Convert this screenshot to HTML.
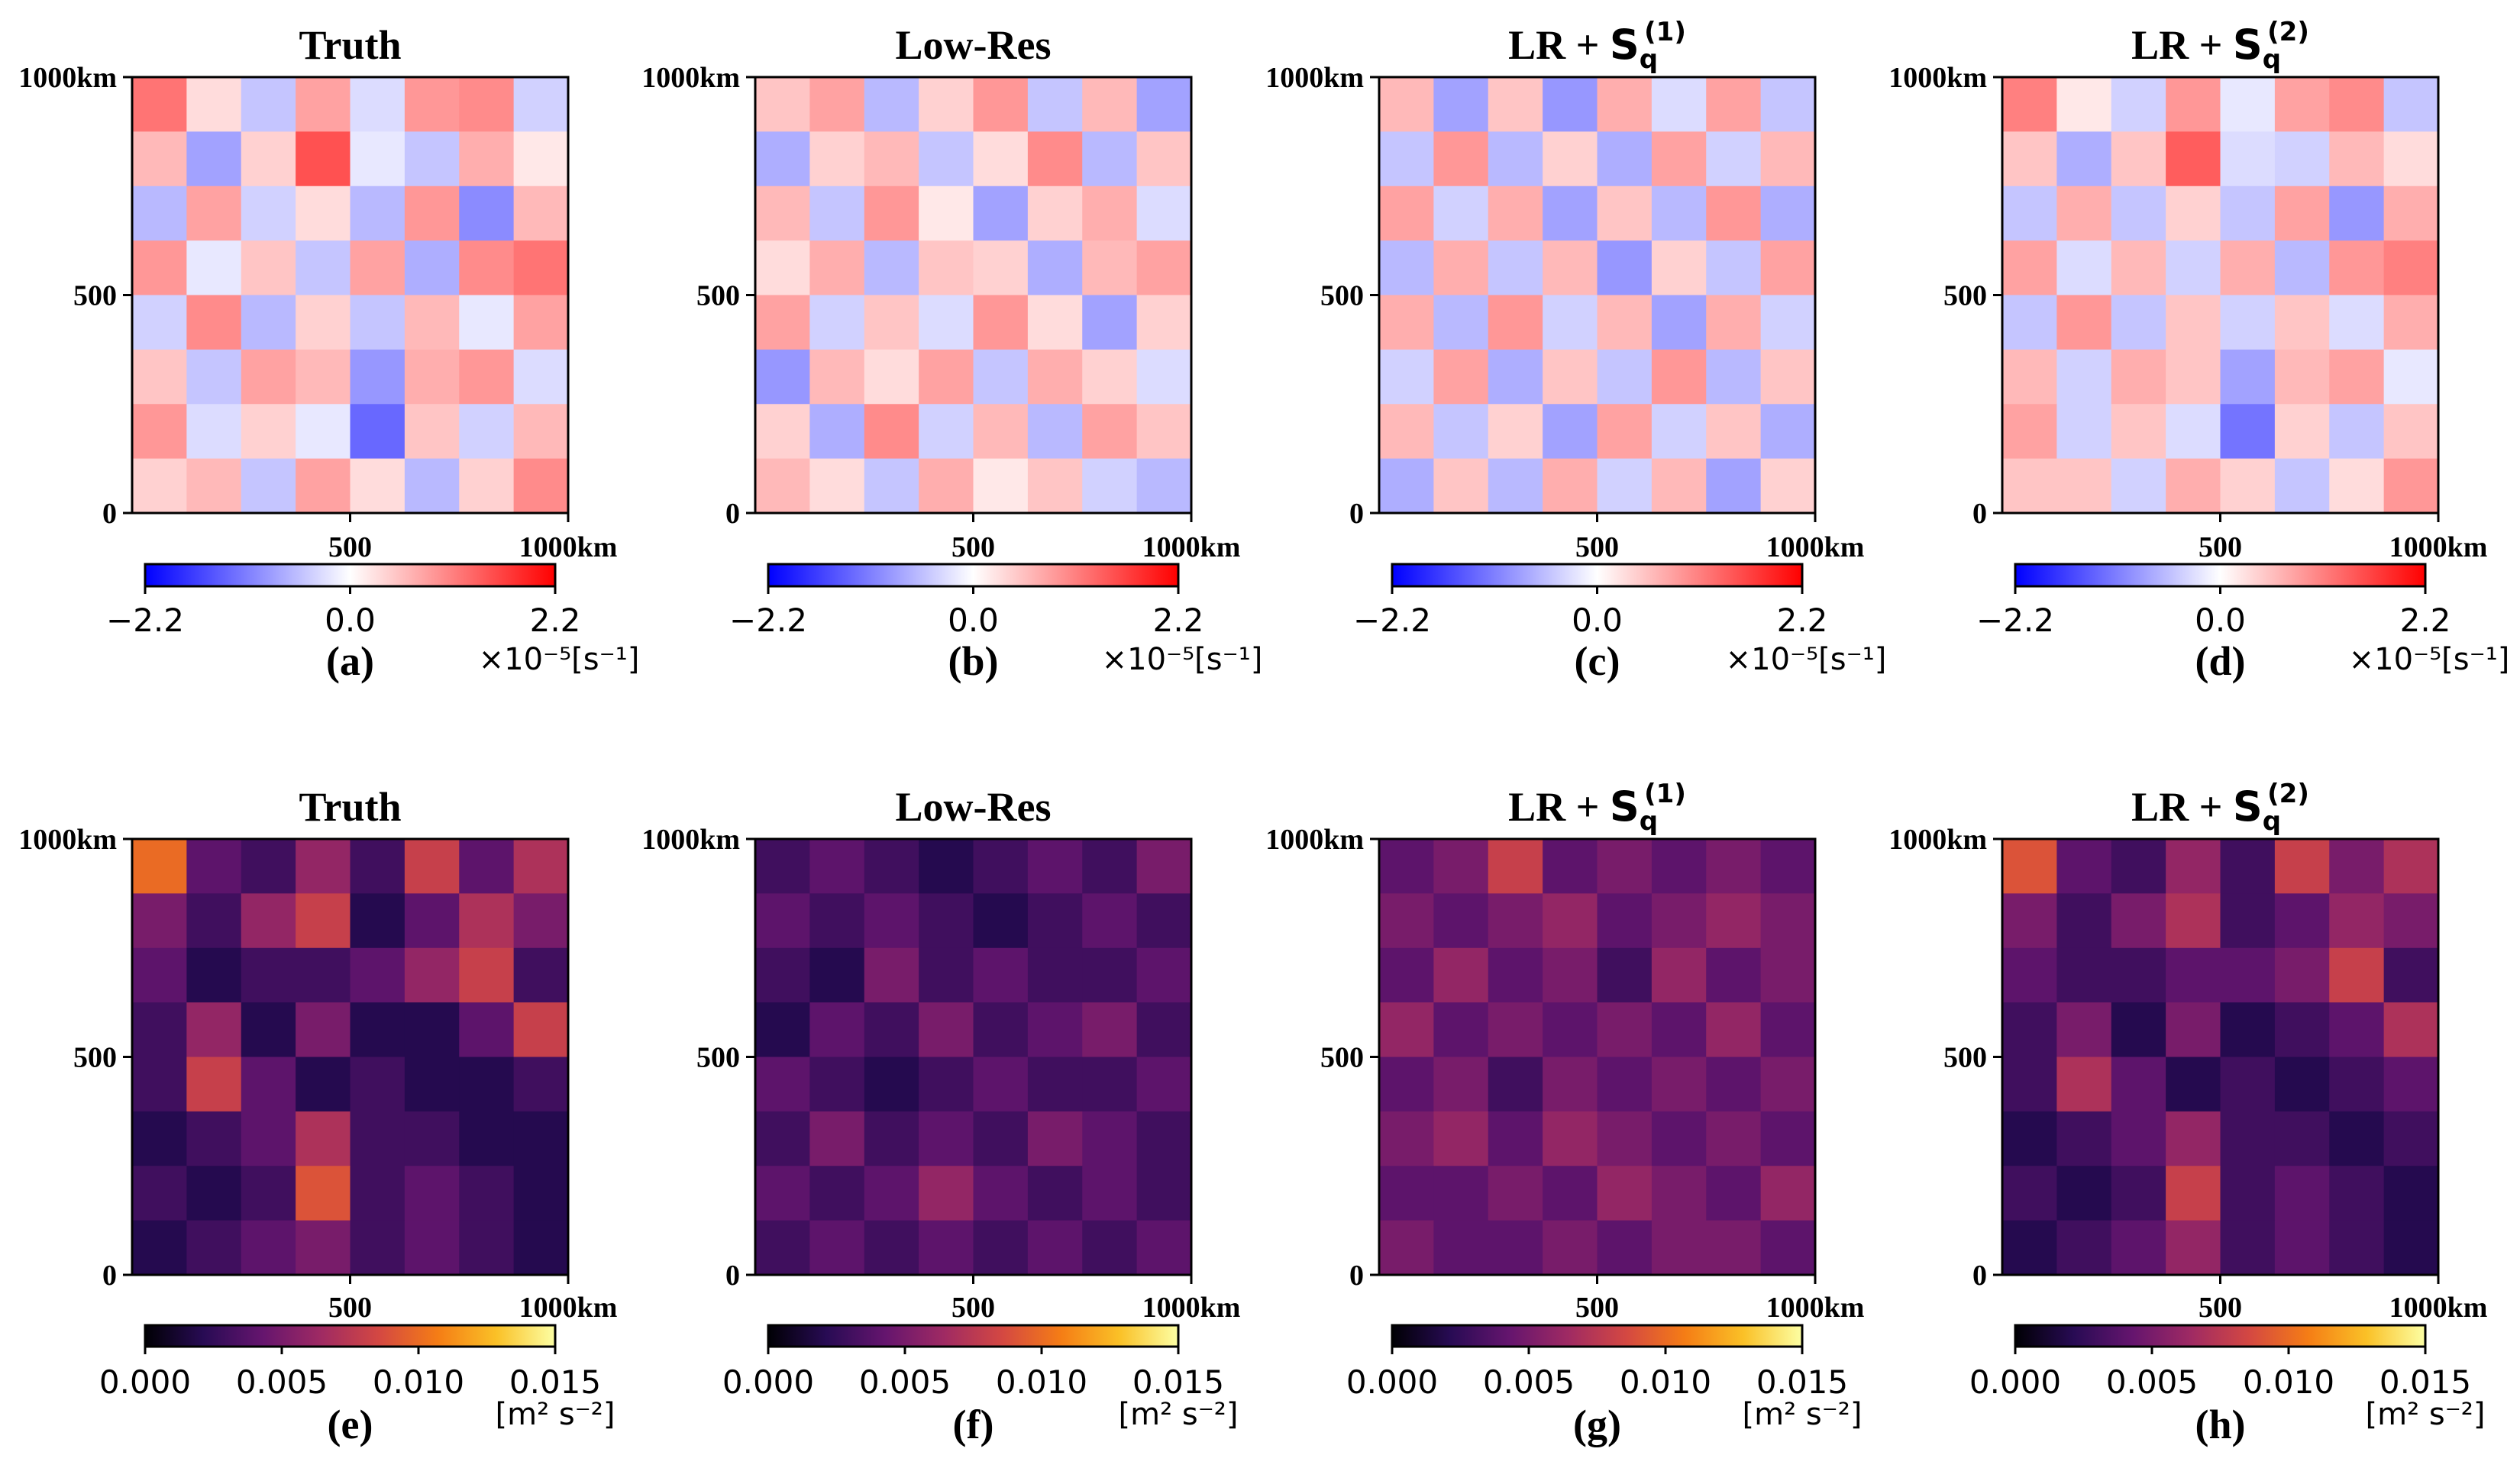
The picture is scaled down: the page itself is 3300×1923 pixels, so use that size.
<!DOCTYPE html>
<html><head><meta charset="utf-8"><style>
html,body{margin:0;padding:0;background:#fff;width:3300px;height:1923px;overflow:hidden}
svg{display:block}
</style></head><body>
<svg id="fig" width="3300" height="1923" viewBox="0 0 3300 1923" xmlns="http://www.w3.org/2000/svg"></svg>
<script>
// ---- data (coarse 8x8 estimates, top row first) ----
const vortTruth=[[1.2,0.3,-0.5,0.8,-0.3,0.9,1.0,-0.4],[0.6,-0.8,0.4,1.5,-0.2,-0.5,0.7,0.2],[-0.6,0.8,-0.4,0.3,-0.6,0.9,-1.0,0.6],[0.9,-0.2,0.5,-0.5,0.8,-0.7,1.0,1.2],[-0.4,1.0,-0.6,0.4,-0.5,0.6,-0.2,0.8],[0.5,-0.5,0.8,0.6,-0.9,0.7,0.9,-0.3],[0.9,-0.3,0.4,-0.2,-1.3,0.5,-0.4,0.6],[0.4,0.6,-0.5,0.8,0.3,-0.6,0.4,1.0]];
const vortLowRes=[[0.5,0.8,-0.6,0.4,0.9,-0.5,0.6,-0.8],[-0.7,0.4,0.6,-0.5,0.3,1.0,-0.6,0.5],[0.6,-0.5,0.9,0.2,-0.8,0.4,0.7,-0.3],[0.3,0.7,-0.6,0.5,0.4,-0.7,0.6,0.8],[0.8,-0.4,0.5,-0.3,0.9,0.3,-0.8,0.4],[-0.9,0.6,0.3,0.8,-0.5,0.7,0.4,-0.3],[0.4,-0.7,1.0,-0.4,0.6,-0.6,0.8,0.5],[0.6,0.3,-0.5,0.7,0.2,0.5,-0.4,-0.6]];
const vortS1=[[0.6,-0.8,0.5,-0.9,0.7,-0.3,0.8,-0.5],[-0.5,0.9,-0.6,0.4,-0.7,0.8,-0.4,0.6],[0.8,-0.4,0.7,-0.8,0.5,-0.6,0.9,-0.7],[-0.6,0.7,-0.5,0.6,-0.9,0.4,-0.5,0.8],[0.7,-0.6,0.9,-0.4,0.6,-0.8,0.7,-0.4],[-0.4,0.8,-0.7,0.5,-0.5,0.9,-0.6,0.5],[0.6,-0.5,0.4,-0.8,0.8,-0.4,0.5,-0.7],[-0.7,0.5,-0.6,0.7,-0.4,0.6,-0.8,0.4]];
const vortS2=[[1.1,0.2,-0.4,0.9,-0.2,0.8,1.0,-0.5],[0.5,-0.7,0.5,1.4,-0.3,-0.4,0.6,0.3],[-0.5,0.7,-0.5,0.4,-0.5,0.8,-0.9,0.7],[0.8,-0.3,0.6,-0.4,0.7,-0.6,0.9,1.1],[-0.5,0.9,-0.5,0.5,-0.4,0.5,-0.3,0.7],[0.6,-0.4,0.7,0.5,-0.8,0.6,0.8,-0.2],[0.8,-0.4,0.5,-0.3,-1.2,0.4,-0.5,0.5],[0.5,0.5,-0.4,0.7,0.4,-0.5,0.3,0.9]];
const keTruth=[[0.010,0.004,0.003,0.006,0.003,0.008,0.004,0.007],[0.005,0.003,0.006,0.008,0.002,0.004,0.007,0.005],[0.004,0.002,0.003,0.003,0.004,0.006,0.008,0.003],[0.003,0.006,0.002,0.005,0.002,0.002,0.004,0.008],[0.003,0.008,0.004,0.002,0.003,0.002,0.002,0.003],[0.002,0.003,0.004,0.007,0.003,0.003,0.002,0.002],[0.003,0.002,0.003,0.009,0.003,0.004,0.003,0.002],[0.002,0.003,0.004,0.005,0.003,0.004,0.003,0.002]];
const keLowRes=[[0.003,0.004,0.003,0.002,0.003,0.004,0.003,0.005],[0.004,0.003,0.004,0.003,0.002,0.003,0.004,0.003],[0.003,0.002,0.005,0.003,0.004,0.003,0.003,0.004],[0.002,0.004,0.003,0.005,0.003,0.004,0.005,0.003],[0.004,0.003,0.002,0.003,0.004,0.003,0.003,0.004],[0.003,0.005,0.003,0.004,0.003,0.005,0.004,0.003],[0.004,0.003,0.004,0.006,0.004,0.003,0.004,0.003],[0.003,0.004,0.003,0.004,0.003,0.004,0.003,0.004]];
const keS1=[[0.004,0.005,0.008,0.004,0.005,0.004,0.005,0.004],[0.005,0.004,0.005,0.006,0.004,0.005,0.006,0.005],[0.004,0.006,0.004,0.005,0.003,0.006,0.004,0.005],[0.006,0.004,0.005,0.004,0.005,0.004,0.006,0.004],[0.004,0.005,0.003,0.005,0.004,0.005,0.004,0.005],[0.005,0.006,0.004,0.006,0.005,0.004,0.005,0.004],[0.004,0.004,0.005,0.004,0.006,0.005,0.004,0.006],[0.005,0.004,0.004,0.005,0.004,0.005,0.005,0.004]];
const keS2=[[0.009,0.004,0.003,0.006,0.003,0.008,0.005,0.007],[0.005,0.003,0.005,0.007,0.003,0.004,0.006,0.005],[0.004,0.003,0.003,0.004,0.004,0.005,0.008,0.003],[0.003,0.005,0.002,0.005,0.002,0.003,0.004,0.007],[0.003,0.007,0.004,0.002,0.003,0.002,0.003,0.004],[0.002,0.003,0.004,0.006,0.003,0.003,0.002,0.003],[0.003,0.002,0.003,0.008,0.003,0.004,0.003,0.002],[0.002,0.003,0.004,0.006,0.003,0.004,0.003,0.002]];
const topTicks=["\u22122.2","0.0","2.2"];
const topTickVals=[-2.2,0,2.2];
const botTicks=["0.000","0.005","0.010","0.015"];
const botTickVals=[0,0.005,0.010,0.015];
const letters=["(a)","(b)","(c)","(d)","(e)","(f)","(g)","(h)"];

const NS="http://www.w3.org/2000/svg";
const svg=document.getElementById('fig');
function mk(tag,attrs,parent){const e=document.createElementNS(NS,tag);for(const k in attrs)e.setAttribute(k,attrs[k]);(parent||svg).appendChild(e);return e;}
function lerp(a,b,t){return a+(b-a)*t}
function bwr(v){let t=(v+2.2)/4.4;t=Math.max(0,Math.min(1,t));let r,g,b;if(t<0.5){const s=t/0.5;r=s;g=s;b=1;}else{const s=(t-0.5)/0.5;r=1;g=1-s;b=1-s;}return `rgb(${Math.round(r*255)},${Math.round(g*255)},${Math.round(b*255)})`;}
const inf=[[0,0,4],[40,11,84],[101,21,110],[159,42,99],[212,72,66],[245,125,21],[250,193,39],[252,255,164]];
function inferno(v){let t=Math.max(0,Math.min(1,v/0.015))*(inf.length-1);const i=Math.min(inf.length-2,Math.floor(t));const f=t-i;const a=inf[i],b=inf[i+1];return `rgb(${Math.round(lerp(a[0],b[0],f))},${Math.round(lerp(a[1],b[1],f))},${Math.round(lerp(a[2],b[2],f))})`;}

const colX=[173,989,1806,2622];
const W=571;
const rows=[{top:101,cbTop:739,cbH:29,title:59,tickLbl:716,cbLbl:812,letter:867,unit:863,data:[vortTruth,vortLowRes,vortS1,vortS2],cmap:bwr,ticks:topTicks,tv:topTickVals,vmin:-2.2,vmax:2.2,grad:'gbwr'},
            {top:1099,cbTop:1736,cbH:28,title:1057,tickLbl:1712,cbLbl:1810,letter:1867,unit:1852,data:[keTruth,keLowRes,keS1,keS2],cmap:inferno,ticks:botTicks,tv:botTickVals,vmin:0,vmax:0.015,grad:'ginf'}];
const defs=mk('defs',{});
const g1=mk('linearGradient',{id:'gbwr'},defs);
[[0,'#0000ff'],[0.5,'#ffffff'],[1,'#ff0000']].forEach(s=>mk('stop',{offset:s[0],'stop-color':s[1]},g1));
const g2=mk('linearGradient',{id:'ginf'},defs);
inf.forEach((c,i)=>mk('stop',{offset:i/(inf.length-1),'stop-color':`rgb(${c})`},g2));

const titles=["Truth","Low-Res","S1","S2"];
const units=['\u00d710\u207b\u2075[s\u207b\u00b9]','[m\u00b2 s\u207b\u00b2]'];
rows.forEach((R,ri)=>{
 colX.forEach((x0,ci)=>{
  const g=mk('g',{});
  
  
  const D=R.data[ci];const n=D.length,m=D[0].length;
  const xs=c=>x0+c*W/m, ys=r=>R.top+r*W/n;
  const hm=mk('g',{},g);
  
  
  D.forEach((row,r)=>row.forEach((v,c)=>{const cell=mk('rect',{x:xs(c),y:ys(r),width:W/m+0.6,height:W/n+0.6,fill:R.cmap(v)},hm);
   
   }));
  const fr=mk('rect',{x:x0,y:R.top,width:W,height:W,fill:'none',stroke:'#000','stroke-width':3},g);
  
  const cx=x0+W/2;
  const t=mk('text',{x:cx,y:R.title+18,'text-anchor':'middle','font-family':'Liberation Serif, serif','font-weight':'bold','font-size':54},g);
  
  if(ci<2){t.textContent=titles[ci];}
  else{const a=mk('tspan',{},t);a.textContent='LR + ';
   const s=mk('tspan',{'font-family':'DejaVu Sans, sans-serif'},t);s.textContent='S';
   const q=mk('tspan',{'font-family':'DejaVu Sans, sans-serif','font-size':34,dy:12},t);q.textContent='q';
   const p=mk('tspan',{'font-family':'DejaVu Sans, sans-serif','font-size':34,dy:-36,dx:-18},t);p.textContent=ci==2?'(1)':'(2)';}
  const tk=(x1,y1,x2,y2)=>mk('line',{x1,y1,x2,y2,stroke:'#000','stroke-width':3},g);
  [[0,'1000km'],[0.5,'500'],[1,'0']].forEach(([f,l])=>{const y=R.top+f*W;tk(x0-12,y,x0,y);
   const tl=mk('text',{x:x0-20,y:y+13,'text-anchor':'end','font-family':'Liberation Serif, serif','font-weight':'bold','font-size':38},g);tl.textContent=l;
   });
  [[0.5,'500'],[1,'1000km']].forEach(([f,l])=>{const x=x0+f*W;tk(x,R.top+W,x,R.top+W+12);
   const tl=mk('text',{x:x,y:R.tickLbl+13,'text-anchor':'middle','font-family':'Liberation Serif, serif','font-weight':'bold','font-size':38},g);tl.textContent=l;
   });
  const cbx=x0+17,cbw=537;
  const cb=mk('rect',{x:cbx,y:R.cbTop,width:cbw,height:R.cbH,fill:`url(#${R.grad})`,stroke:'#000','stroke-width':3},g);
  
  R.tv.forEach((v,i)=>{const x=cbx+(v-R.vmin)/(R.vmax-R.vmin)*cbw;tk(x,R.cbTop+R.cbH,x,R.cbTop+R.cbH+10);
   const tl=mk('text',{x:x,y:R.cbLbl+15,'text-anchor':'middle','font-family':'DejaVu Sans, sans-serif','font-size':42},g);tl.textContent=R.ticks[i];
   });
  const u=mk('text',{x:cbx+cbw+(ri?0:5),y:R.unit+14,'text-anchor':'middle','font-family':'DejaVu Sans, sans-serif','font-size':40},g);u.textContent=units[ri];
  
  const L=mk('text',{x:cx,y:R.letter+17,'text-anchor':'middle','font-family':'Liberation Serif, serif','font-weight':'bold','font-size':54},g);L.textContent=letters[ri*4+ci];
  
 });
});
</script>
</body></html>
